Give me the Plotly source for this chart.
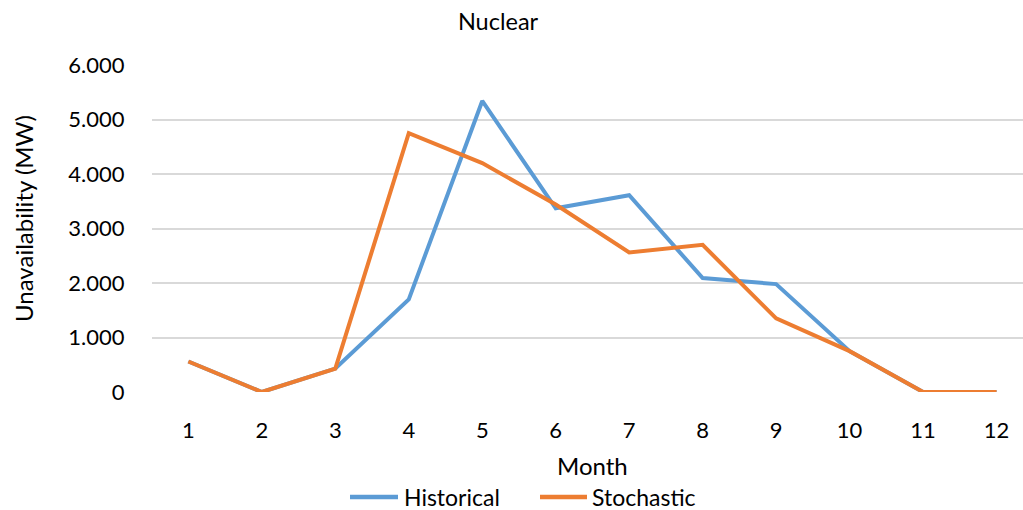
import plotly.graph_objects as go

months = [1, 2, 3, 4, 5, 6, 7, 8, 9, 10, 11, 12]
historical = [560, 0, 430, 1700, 5340, 3370, 3610, 2090, 1980, 750, 0, 0]
stochastic = [560, 0, 430, 4750, 4200, 3440, 2560, 2700, 1350, 750, 0, 0]
y_ticks = [0, 1000, 2000, 3000, 4000, 5000, 6000]
series_names = ["Historical", "Stochastic"]
series_colors = ["#5B9BD5", "#ED7D31"]

FONT = "Lato"
W, H = 1023, 510
L, T, B = 152, 65, 118
PW, PH = W - L, H - T - B


def px_x(p):
    return (p - L) / PW


def px_y(p):
    return (H - B - p) / PH


fig = go.Figure()
for name, vals, col in zip(series_names, [historical, stochastic], series_colors):
    fig.add_trace(go.Scatter(x=months, y=vals, mode="lines", name=name,
                             line=dict(color=col, width=4), showlegend=False))

fig.update_layout(
    width=W, height=H,
    margin=dict(l=L, r=0, t=T, b=B),
    paper_bgcolor="white", plot_bgcolor="white",
    separators=",.",
    font=dict(family=FONT, size=22, color="#000000"),
    title=dict(text="Nuclear", x=498 / W, xref="container", xanchor="center",
               y=1 - 22 / H, yref="container", yanchor="middle",
               font=dict(size=23.5, family=FONT, color="#000000")),
    showlegend=False,
)
fig.update_xaxes(range=[0.505, 12.36], tickmode="array", tickvals=months,
                 ticktext=[str(m) for m in months], showgrid=False, zeroline=False,
                 showline=False, ticks="outside", ticklen=19,
                 tickcolor="rgba(0,0,0,0)", tickfont=dict(size=22))
fig.update_yaxes(range=[0, 6000], tickmode="array", tickvals=y_ticks,
                 tickformat=",d", showgrid=True, gridcolor="#D9D9D9", gridwidth=1.5,
                 zeroline=False, showline=False, ticks="outside", ticklen=22,
                 tickcolor="rgba(0,0,0,0)", tickfont=dict(size=22))

fig.add_annotation(text="Unavailability (MW)", xref="paper", yref="paper",
                   x=px_x(23), y=px_y(219), textangle=-90, showarrow=False,
                   xanchor="center", yanchor="middle", font=dict(size=24, family=FONT))
fig.add_annotation(text="Month", xref="paper", yref="paper", x=px_x(592),
                   y=px_y(465), showarrow=False, xanchor="center",
                   yanchor="middle", font=dict(size=24, family=FONT))

# legend (drawn manually to match sample line length)
leg_y = 497
leg_items = [(350, 398, 402), (540, 587, 590)]
for (x0, x1, tx), name, col in zip(leg_items, series_names, series_colors):
    fig.add_shape(type="line", xref="paper", yref="paper",
                  x0=px_x(x0), x1=px_x(x1), y0=px_y(leg_y), y1=px_y(leg_y),
                  line=dict(color=col, width=4.5))
    fig.add_annotation(text=name, xref="paper", yref="paper", x=px_x(tx),
                       y=px_y(leg_y), showarrow=False, xanchor="left",
                       yanchor="middle", font=dict(size=23, family=FONT))

fig.write_html("out.html")
